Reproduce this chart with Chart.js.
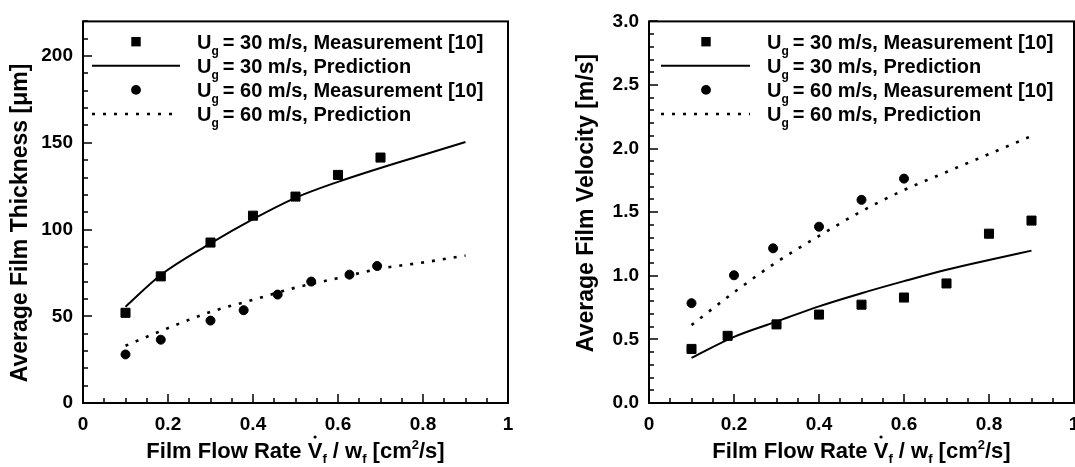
<!DOCTYPE html>
<html>
<head>
<meta charset="utf-8">
<script src="https://cdn.jsdelivr.net/npm/chart.js@4.4.1/dist/chart.umd.min.js"></script>
<style>
  html, body { margin: 0; padding: 0; background: #fff; overflow: hidden; width: 1075px; height: 467px; }
  .box { position: absolute; top: 0; height: 467px; }
  #left { left: 0; width: 540px; }
  #right { left: 540px; width: 560px; }
</style>
</head>
<body>
<div class="box" id="left"><canvas id="thickness"></canvas></div>
<div class="box" id="right"><canvas id="velocity"></canvas></div>
<script>
// film thickness, um
const thickRate30 = [0.1, 0.183, 0.3, 0.4, 0.5, 0.6, 0.7];
const thick30Meas = [52, 73, 92.5, 108, 119, 131.5, 141.5];
const thickRate60 = [0.1, 0.183, 0.3, 0.378, 0.458, 0.537, 0.627, 0.692];
const thick60Meas = [28, 36.5, 47.5, 53.5, 62.5, 70, 74, 79];
const thickPredRate = [0.1, 0.183, 0.3, 0.4, 0.5, 0.6, 0.7, 0.8, 0.9];
const thick30Pred = [55.5, 73.8, 92, 106, 118.3, 127.5, 135.5, 143, 150.5];
const thick60Pred = [33, 41.5, 52.5, 59.5, 66.5, 72, 77.5, 81, 85];

// film velocity, m/s
const velRate30 = [0.1, 0.185, 0.3, 0.4, 0.5, 0.6, 0.7, 0.8, 0.9];
const vel30Meas = [0.425, 0.528, 0.618, 0.695, 0.773, 0.829, 0.94, 1.331, 1.434];
const velRate60 = [0.1, 0.2, 0.292, 0.4, 0.5, 0.6];
const vel60Meas = [0.785, 1.004, 1.216, 1.386, 1.597, 1.764];
const velPredRate = [0.1, 0.2, 0.3, 0.4, 0.5, 0.6, 0.7, 0.8, 0.9];
const vel30Pred = [0.355, 0.52, 0.64, 0.76, 0.863, 0.958, 1.048, 1.125, 1.198];
const vel60Pred = [0.613, 0.87, 1.107, 1.313, 1.507, 1.674, 1.816, 1.957, 2.099];

const xTicks = [0, 0.2, 0.4, 0.6, 0.8, 1];
const seriesLabels = [
  "Ug = 30 m/s, Measurement [10]",
  "Ug = 30 m/s, Prediction",
  "Ug = 60 m/s, Measurement [10]",
  "Ug = 60 m/s, Prediction",
];

const FONT = '"Liberation Sans", Arial, Helvetica, sans-serif';

const pts = (xs, ys) => xs.map((x, i) => ({ x, y: ys[i] }));

function makeDatasets(r30, m30, rp, p30, r60, m60, p60) {
  return [
    { label: seriesLabels[0], data: pts(r30, m30), pointStyle: "rect", pointRadius: 6.4,
      backgroundColor: "#000", borderColor: "#000", borderWidth: 1, showLine: false },
    { label: seriesLabels[1], data: pts(rp, p30), showLine: true, pointRadius: 0,
      borderColor: "#000", borderWidth: 2, tension: 0.4, cubicInterpolationMode: "monotone" },
    { label: seriesLabels[2], data: pts(r60, m60), pointStyle: "circle", pointRadius: 4.5,
      backgroundColor: "#000", borderColor: "#000", borderWidth: 1, showLine: false },
    { label: seriesLabels[3], data: pts(rp, p60), showLine: true, pointRadius: 0,
      borderColor: "#000", borderWidth: 2.6, borderDash: [3, 8], borderCapStyle: "butt",
      tension: 0.4, cubicInterpolationMode: "monotone" },
  ];
}

// frame with inward ticks, legend with subscripts, axis titles
const framePlugin = {
  id: "frame",
  afterDraw(chart, args, o) {
    const { ctx, chartArea: a } = chart;
    const xs = chart.scales.x, ys = chart.scales.y;
    ctx.save();
    ctx.fillStyle = "#000";
    ctx.strokeStyle = "#000";

    // ticks
    for (let i = 0; i <= 20; i++) {
      const px = Math.round(xs.getPixelForValue(i * 0.05));
      const len = i % 4 === 0 ? 9 : 5;
      ctx.fillRect(px - 0.75, a.bottom - len, 1.5, len);
    }
    const n = Math.round(o.yMax / o.yMinor);
    for (let i = 0; i <= n; i++) {
      const py = Math.round(ys.getPixelForValue(i * o.yMinor));
      const len = i % o.majorEvery === 0 ? 9 : 5;
      ctx.fillRect(a.left, py - 0.75, len, 1.5);
    }
    ctx.lineWidth = 2;
    ctx.strokeRect(a.left, a.top, a.right - a.left, a.bottom - a.top);

    // legend
    chart.data.datasets.forEach((ds, i) => {
      const cy = o.legendTop + i * o.legendStep;
      const sx = a.left + o.symbolX;
      if (!ds.showLine) {
        ctx.beginPath();
        if (ds.pointStyle === "rect") {
          ctx.rect(sx - 4.7, cy - 4.7, 9.4, 9.4);
        } else {
          ctx.arc(sx, cy, 4.9, 0, Math.PI * 2);
        }
        ctx.fill();
      } else {
        ctx.beginPath();
        ctx.lineWidth = ds.borderWidth;
        ctx.setLineDash(ds.borderDash || []);
        ctx.moveTo(a.left + o.lineX0, cy);
        ctx.lineTo(a.left + o.lineX1, cy);
        ctx.stroke();
        ctx.setLineDash([]);
      }
      let tx = a.left + o.textX;
      const base = cy + 7;
      ctx.textBaseline = "alphabetic";
      ctx.textAlign = "left";
      ctx.font = "bold 20px " + FONT;
      ctx.fillText("U", tx, base);
      tx += ctx.measureText("U").width;
      ctx.font = "bold 12px " + FONT;
      ctx.fillText("g", tx, base + 6);
      tx += ctx.measureText("g").width - 1.5;
      ctx.font = "bold 20px " + FONT;
      ctx.fillText(ds.label.slice(2), tx, base);
    });

    // y title
    ctx.font = "bold 23px " + FONT;
    ctx.textAlign = "center";
    ctx.textBaseline = "middle";
    ctx.save();
    ctx.translate(o.yTitleX, o.yTitleY);
    ctx.rotate(-Math.PI / 2);
    ctx.fillText(o.yTitle, 0, 0);
    ctx.restore();

    // x title: Film Flow Rate V(dot)_f / w_f [cm^2/s]
    const big = "bold 22px " + FONT, small = "bold 13px " + FONT;
    const parts = [
      ["Film Flow Rate V", big, 0], ["f", small, 5], [" / w", big, 0], ["f", small, 5],
      [" [cm", big, 0], ["2", small, -9], ["/s]", big, 0],
    ];
    let total = 0;
    parts.forEach(p => { ctx.font = p[1]; total += ctx.measureText(p[0]).width; });
    let x = (a.left + a.right) / 2 - total / 2;
    const baseY = 458;
    ctx.textAlign = "left";
    ctx.textBaseline = "alphabetic";
    parts.forEach((p, i) => {
      ctx.font = p[1];
      ctx.fillText(p[0], x, baseY + p[2]);
      const w = ctx.measureText(p[0]).width;
      if (i === 0) {
        ctx.font = big;
        const vw = ctx.measureText("V").width;
        ctx.beginPath();
        ctx.arc(x + w - vw / 2, baseY - 21, 1.6, 0, Math.PI * 2);
        ctx.fill();
      }
      x += w;
    });
    ctx.restore();
  },
};

function makeChart(id, datasets, yMax, yStep, yFmt, yWidth, rightPad, frame) {
  return new Chart(document.getElementById(id), {
    type: "scatter",
    data: { datasets },
    plugins: [framePlugin],
    options: {
      responsive: true,
      maintainAspectRatio: false,
      animation: false,
      devicePixelRatio: 1,
      layout: { padding: { left: 0, right: rightPad, top: 16, bottom: 0 } },
      plugins: { legend: { display: false }, tooltip: { enabled: false }, frame },
      scales: {
        x: {
          type: "linear", min: 0, max: 1,
          grid: { display: false, drawTicks: false },
          border: { display: false },
          afterFit: s => { s.height = 64; },
          afterBuildTicks: s => { s.ticks = xTicks.map(v => ({ value: v })); },
          ticks: { font: { family: FONT, size: 19, weight: "bold" }, color: "#000",
                   padding: 10, maxRotation: 0, autoSkip: false,
                   callback: v => String(Math.round(v * 10) / 10) },
        },
        y: {
          type: "linear", min: 0, max: yMax,
          grid: { display: false, drawTicks: false },
          border: { display: false },
          afterFit: s => { s.width = yWidth; },
          ticks: { stepSize: yStep, includeBounds: false, callback: yFmt,
                   font: { family: FONT, size: 19, weight: "bold" }, color: "#000", padding: 10 },
        },
      },
    },
  });
}

makeChart("thickness",
  makeDatasets(thickRate30, thick30Meas, thickPredRate, thick30Pred, thickRate60, thick60Meas, thick60Pred),
  220, 50, v => String(v), 83, 32,
  { yMax: 220, yMinor: 10, majorEvery: 5, legendTop: 41.7, legendStep: 24.1,
    symbolX: 53, lineX0: 9, lineX1: 97, textX: 114,
    yTitle: "Average Film Thickness [\u03bcm]", yTitleX: 21, yTitleY: 223 });

makeChart("velocity",
  makeDatasets(velRate30, vel30Meas, velPredRate, vel30Pred, velRate60, vel60Meas, vel60Pred),
  3, 0.5, v => v.toFixed(1), 109, 26,
  { yMax: 3, yMinor: 0.1, majorEvery: 5, legendTop: 41.7, legendStep: 24.1,
    symbolX: 57, lineX0: 12, lineX1: 101, textX: 118,
    yTitle: "Average Film Velocity [m/s]", yTitleX: 47, yTitleY: 203 });
</script>
</body>
</html>
